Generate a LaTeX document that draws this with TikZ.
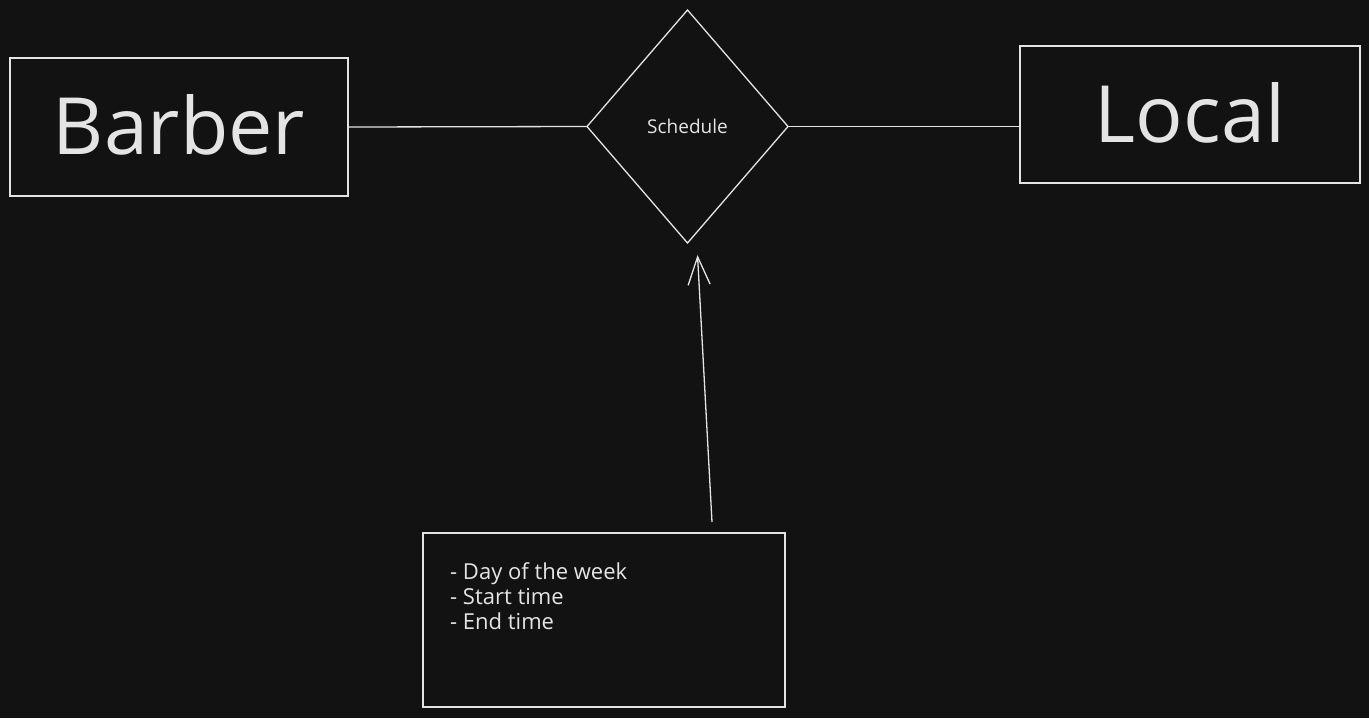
\documentclass[tikz,border=0pt]{standalone}
\usepackage{fontspec}
\setmainfont{Open Sans}
\usetikzlibrary{shapes.geometric,arrows.meta,calc}
\definecolor{bg}{HTML}{121212}
\definecolor{ink}{HTML}{E4E4E4}
\begin{document}
\begin{tikzpicture}[x=1pt,y=-1pt,
  entity/.style={draw=ink, line width=1.3pt, inner sep=0pt, outer sep=0pt, text=ink,
    font=\fontsize{79}{79}\selectfont},
  relation/.style={diamond, draw=ink, line width=1.3pt, inner sep=0pt, outer sep=0pt,
    aspect=1, text=ink, font=\fontsize{19}{19}\selectfont},
  notebox/.style={draw=ink, line width=1.3pt, inner sep=0pt, outer sep=0pt},
  notetext/.style={text=ink, align=left, inner sep=0pt, anchor=north west,
    font=\fontsize{22}{25}\selectfont},
  link/.style={draw=ink, line width=1.3pt},
  arrowlink/.style={draw=ink, line width=1.3pt, -{Straight Barb[length=28pt,width=22pt,line width=1.3pt]}}]
\fill[bg] (0,0) rectangle (1369,718);
\useasboundingbox (0,0) rectangle (1369,718);
\node[entity, minimum width=338pt, minimum height=138pt] (barber) at (179,127) {\raisebox{6pt}{Barber}};
\node[entity, minimum width=340pt, minimum height=137pt] (local) at (1190,114.5) {\raisebox{5pt}{Local}};
\node[relation, minimum width=201pt, minimum height=233pt] (sched) at (687.5,126.5) {Schedule};
\node[notebox, minimum width=362pt, minimum height=174pt] (notes) at (604,620) {};
\node[notetext] (notestext) at (450,562) {- Day of the week\\- Start time\\- End time};
\draw[link] (barber.east) -- (sched.west);
\draw[link] (sched.east) -- (sched.east -| local.west);
\draw[arrowlink] ([xshift=108pt,yshift=11pt]notes.north) -- ([xshift=10pt,yshift=-12pt]sched.south);
\end{tikzpicture}
\end{document}
